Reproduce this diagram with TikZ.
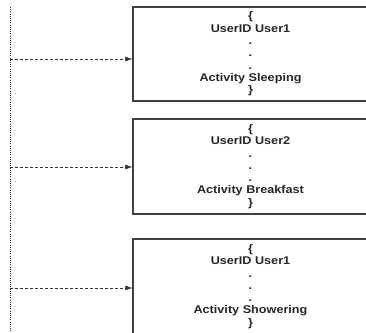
\documentclass[tikz,border=0pt]{standalone}
\usepackage{fontspec}
\setmainfont{Liberation Sans}[FakeStretch=1.13]
\usetikzlibrary{arrows.meta}
\begin{document}
\begin{tikzpicture}[x=1pt,y=1pt,
  recbox/.style={draw=black!75,line width=1.2pt,minimum width=235pt,inner sep=0pt,
    align=center,font=\fontsize{11.2}{12.3}\selectfont\bfseries,text=black!85},
  flow/.style={draw=black!80,line width=0.6pt,dash pattern=on 3pt off 2pt,
    -{Latex[length=7pt,width=5pt]}},
  lifeline/.style={draw=black!80,line width=0.8pt,dash pattern=on 1pt off 1.2pt}]
\useasboundingbox (0,0) rectangle (366,332);
\clip (0,0) rectangle (366,332);
\node[recbox,minimum height=94pt] (b1) at (250.5,278) {\{\\UserID User1\\.\\.\\.\\Activity Sleeping\\\}};
\node[recbox,minimum height=95pt] (b2) at (250.5,165.5) {\{\\UserID User2\\.\\.\\.\\Activity Breakfast\\\}};
\node[recbox,minimum height=95pt] (b3) at (250.5,45.5) {\{\\UserID User1\\.\\.\\.\\Activity Showering\\\}};
\coordinate (top) at (10,325);
\coordinate (bot) at (10,-2);
\draw[lifeline] (top) -- (bot);
\coordinate (s1) at (10,273);
\coordinate (s2) at (10,165);
\coordinate (s3) at (10,44);
\draw[flow] (s1) -- (s1 -| b1.west);
\draw[flow] (s2) -- (s2 -| b2.west);
\draw[flow] (s3) -- (s3 -| b3.west);
\end{tikzpicture}
\end{document}
